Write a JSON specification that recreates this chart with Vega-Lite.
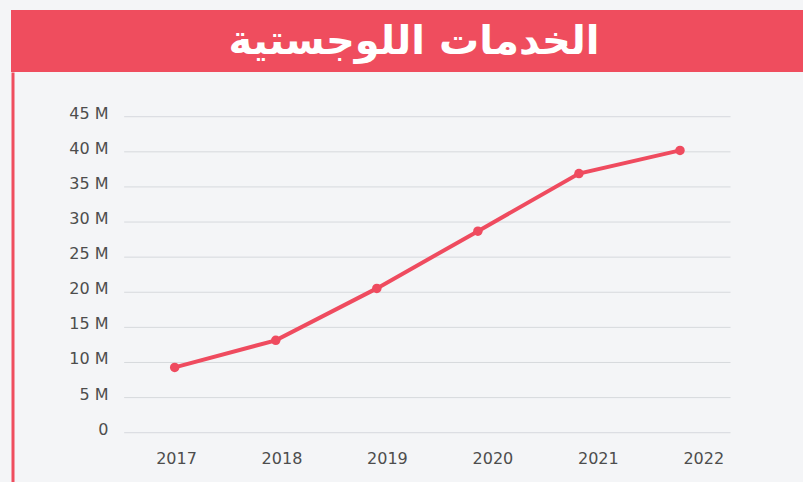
{
  "$schema": "https://vega.github.io/schema/vega-lite/v6.json",
  "padding": {"left": 11, "top": 10, "right": 0, "bottom": 0},
  "background": "#f4f5f7",
  "spacing": 0,
  "config": {"view": {"stroke": null}, "concat": {"spacing": 0}},
  "datasets": {
    "series": [
      {"year": 2017, "value": 9300000},
      {"year": 2018, "value": 13150000},
      {"year": 2019, "value": 20550000},
      {"year": 2020, "value": 28700000},
      {"year": 2021, "value": 36900000},
      {"year": 2022, "value": 40200000}
    ],
    "grid": [
      {"v": 0}, {"v": 5000000}, {"v": 10000000}, {"v": 15000000}, {"v": 20000000},
      {"v": 25000000}, {"v": 30000000}, {"v": 35000000}, {"v": 40000000}, {"v": 45000000}
    ]
  },
  "vconcat": [
    {
      "width": 792,
      "height": 62,
      "view": {"fill": "#ef4d5e", "stroke": null},
      "data": {"values": [{"title": "الخدمات اللوجستية"}]},
      "mark": {"type": "text", "color": "white", "font": "DejaVu Sans", "fontWeight": "bold", "fontSize": 40, "dx": 7, "dy": 1, "baseline": "middle"},
      "encoding": {"text": {"field": "title"}}
    },
    {
      "width": 792,
      "height": 410,
      "layer": [
        {
          "data": {"name": "grid"},
          "mark": {"type": "rule", "color": "#d6d9dd", "strokeWidth": 1},
          "encoding": {
            "y": {
              "field": "v", "type": "quantitative",
              "scale": {"domain": [-7020000, 51366000], "nice": false, "zero": false},
              "axis": {
                "values": [0, 5000000, 10000000, 15000000, 20000000, 25000000, 30000000, 35000000, 40000000, 45000000],
                "labelExpr": "datum.value == 0 ? '0' : (datum.value / 1000000) + ' M'",
                "domain": true, "domainColor": "#ef4d5e", "domainWidth": 3, "domainCap": "butt",
                "offset": -1.5, "ticks": false, "grid": false,
                "labelPadding": -95.5, "labelOffset": -3.5,
                "labelFont": "DejaVu Sans", "labelFontSize": 16, "labelColor": "#4d4d4d",
                "labelFlush": false, "labelOverlap": false, "title": null
              }
            },
            "x": {"datum": 2016.5, "type": "quantitative", "scale": {"domain": [2015.3802, 2023.2171], "nice": false, "zero": false}, "axis": null},
            "x2": {"datum": 2022.5}
          }
        },
        {
          "data": {"name": "series"},
          "mark": {"type": "line", "color": "#ef4b5f", "strokeWidth": 4, "point": {"filled": true, "size": 90, "color": "#ef4b5f", "opacity": 1}},
          "encoding": {
            "x": {"field": "year", "type": "quantitative", "scale": {"domain": [2015.3802, 2023.2171], "nice": false, "zero": false}, "axis": null},
            "y": {"field": "value", "type": "quantitative"}
          }
        },
        {
          "data": {"name": "series"},
          "mark": {"type": "point", "opacity": 0},
          "encoding": {
            "x": {
              "field": "year", "type": "quantitative",
              "scale": {"domain": [2015.4354, 2022.9454], "nice": false, "zero": false},
              "axis": {
                "values": [2017, 2018, 2019, 2020, 2021, 2022], "format": "d",
                "domain": false, "ticks": false, "grid": false, "labelPadding": -32,
                "labelFont": "DejaVu Sans", "labelFontSize": 16, "labelColor": "#4d4d4d",
                "labelFlush": false, "labelOverlap": false, "title": null
              }
            },
            "y": {"field": "value", "type": "quantitative"}
          }
        }
      ],
      "resolve": {"scale": {"x": "independent"}}
    }
  ]
}
